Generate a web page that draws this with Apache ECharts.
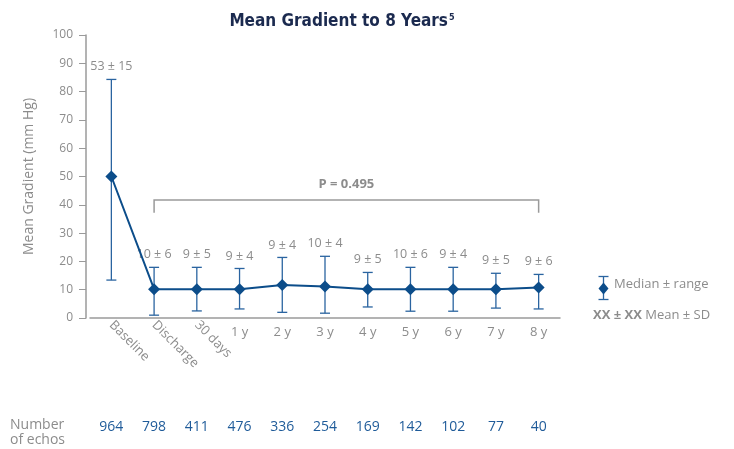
<!DOCTYPE html>
<html>
<head>
<meta charset="utf-8">
<script src="https://cdn.jsdelivr.net/npm/echarts@6/dist/echarts.min.js"></script>
<style>
  html, body { margin: 0; padding: 0; background: #fff; }
  #chart { width: 734px; height: 449px; }
</style>
</head>
<body>
<div id="chart"></div>
<script>
// data
const categories = ['Baseline', 'Discharge', '30 days', '1 y', '2 y', '3 y', '4 y', '5 y', '6 y', '7 y', '8 y'];
const medians = [50, 10.2, 10.2, 10.2, 11.7, 11.1, 10.2, 10.2, 10.2, 10.2, 10.8];
const rangeLow = [13.4, 1, 2.5, 3.2, 2, 1.7, 3.9, 2.4, 2.4, 3.5, 3.2];
const rangeHigh = [84.3, 17.9, 17.9, 17.5, 21.4, 21.8, 16.1, 17.9, 17.9, 15.8, 15.4];
const meanSd = ['53 ± 15', '10 ± 6', '9 ± 5', '9 ± 4', '9 ± 4', '10 ± 4', '9 ± 5', '10 ± 6', '9 ± 4', '9 ± 5', '9 ± 6'];
const echoCounts = [964, 798, 411, 476, 336, 254, 169, 142, 102, 77, 40];
const pBracket = [1, 10, 41.7, 37.2]; // from cat, to cat, top, tick end
const pText = 'P = 0.495';

const font = '"Open Sans", "Noto Sans", sans-serif';
const grey = '#8c8c8c';
const blue = '#0c4d8a';

const chart = echarts.init(document.getElementById('chart'));

const option = {
  animation: false,
  title: {
    text: 'Mean Gradient to 8 Years{sup|5}',
    left: 337,
    textAlign: 'center',
    top: 8,
    textStyle: {
      fontFamily: '"Liberation Sans Narrow", "DejaVu Sans Condensed", sans-serif',
      fontWeight: 'bold',
      fontSize: 17,
      color: '#1b2a4f',
      rich: {
        sup: { fontSize: 9, fontWeight: 'bold', color: '#1b2a4f', verticalAlign: 'top', padding: [0, 0, 8, 1] }
      }
    }
  },
  grid: { left: 90, right: 174, top: 35, bottom: 131 },
  xAxis: [
    {
      type: 'category',
      data: categories,
      position: 'bottom',
      axisLine: { lineStyle: { color: '#9a9a9a', width: 1.5 } },
      axisTick: { show: false },
      axisLabel: {
        margin: 8,
        color: grey,
        fontFamily: font,
        fontSize: 13,
        formatter: (v, i) => (i >= 3 ? v : '')
      }
    },
    {
      type: 'category',
      data: categories,
      position: 'bottom',
      axisLine: { show: false },
      axisTick: { show: false },
      axisLabel: {
        rotate: -45,
        margin: 5,
        color: grey,
        fontFamily: font,
        fontSize: 13,
        interval: 0,
        formatter: (v, i) => (i < 3 ? v : '')
      }
    },
    {
      type: 'category',
      data: categories,
      position: 'bottom',
      offset: 94,
      axisLine: { show: false },
      axisTick: { show: false },
      axisLabel: {
        interval: 0,
        color: '#1f5b99',
        fontFamily: font,
        fontSize: 14,
        formatter: (v, i) => String(echoCounts[i])
      }
    }
  ],
  yAxis: {
    type: 'value',
    min: 0,
    max: 100,
    interval: 10,
    offset: 4,
    name: 'Mean Gradient (mm Hg)',
    nameLocation: 'middle',
    nameGap: 50,
    nameTextStyle: { color: grey, fontFamily: font, fontSize: 14 },
    axisLine: { show: true, lineStyle: { color: '#9a9a9a', width: 1.5 } },
    axisTick: { show: true, length: 7, lineStyle: { color: '#9a9a9a' } },
    axisLabel: { color: grey, fontFamily: font, fontSize: 12, margin: 13 },
    splitLine: { show: false }
  },
  series: [
    {
      type: 'custom',
      xAxisIndex: 0,
      data: categories.map((c, i) => [i, rangeLow[i], rangeHigh[i]]),
      renderItem: function (params, api) {
        const lo = api.coord([api.value(0), api.value(1)]);
        const hi = api.coord([api.value(0), api.value(2)]);
        const w = 5;
        const st = { stroke: '#2a64a0', lineWidth: 1.3 };
        return {
          type: 'group',
          children: [
            { type: 'line', shape: { x1: lo[0], y1: lo[1], x2: hi[0], y2: hi[1] }, style: st },
            { type: 'line', shape: { x1: lo[0] - w, y1: lo[1], x2: lo[0] + w, y2: lo[1] }, style: st },
            { type: 'line', shape: { x1: hi[0] - w, y1: hi[1], x2: hi[0] + w, y2: hi[1] }, style: st },
            {
              type: 'text',
              style: {
                text: meanSd[params.dataIndex],
                x: hi[0], y: hi[1] - 6,
                align: 'center', verticalAlign: 'bottom',
                fill: grey, font: '12.5px ' + font
              }
            }
          ]
        };
      },
      z: 2
    },
    {
      type: 'line',
      name: 'Median ± range',
      xAxisIndex: 0,
      data: medians,
      symbol: 'diamond',
      symbolSize: 12,
      lineStyle: { color: blue, width: 2 },
      itemStyle: { color: blue },
      z: 3
    },
    {
      type: 'custom',
      xAxisIndex: 0,
      data: [pBracket],
      renderItem: function (params, api) {
        const a = api.coord([api.value(0), api.value(2)]);
        const b = api.coord([api.value(1), api.value(2)]);
        const a2 = api.coord([api.value(0), api.value(3)]);
        const st = { stroke: '#9a9a9a', lineWidth: 1.5, fill: null };
        return {
          type: 'group',
          children: [
            { type: 'polyline', shape: { points: [[a[0], a2[1]], a, b, [b[0], a2[1]]] }, style: st },
            {
              type: 'text',
              style: {
                text: pText,
                x: (a[0] + b[0]) / 2, y: a[1] - 9,
                align: 'center', verticalAlign: 'bottom',
                fill: grey, font: 'bold 13px ' + font
              }
            }
          ]
        };
      }
    }
  ],
  graphic: [
    {
      type: 'text',
      left: 10,
      top: 418,
      style: { text: 'Number\nof echos', fill: grey, font: '14px ' + font, lineHeight: 15 }
    },
    {
      type: 'group',
      left: 596,
      top: 274,
      children: [
        { type: 'line', shape: { x1: 5, y1: 0, x2: 5, y2: 23 }, style: { stroke: '#2a64a0', lineWidth: 1.3 } },
        { type: 'line', shape: { x1: 0, y1: 0, x2: 10, y2: 0 }, style: { stroke: '#2a64a0', lineWidth: 1.3 } },
        { type: 'line', shape: { x1: 0, y1: 23, x2: 10, y2: 23 }, style: { stroke: '#2a64a0', lineWidth: 1.3 } },
        { type: 'polygon', shape: { points: [[5, 6], [10, 12], [5, 18], [0, 12]] }, style: { fill: blue } }
      ]
    },
    {
      type: 'text',
      left: 614,
      top: 278,
      style: { text: 'Median ± range', fill: grey, font: '13px ' + font }
    },
    {
      type: 'text',
      left: 593,
      top: 309,
      style: {
        text: '{b|XX ± XX} Mean ± SD',
        fill: grey,
        font: '13px ' + font,
        rich: { b: { fontWeight: 'bold', fontSize: 13, fill: grey, fontFamily: font } }
      }
    }
  ]
};

chart.setOption(option);
</script>
</body>
</html>
